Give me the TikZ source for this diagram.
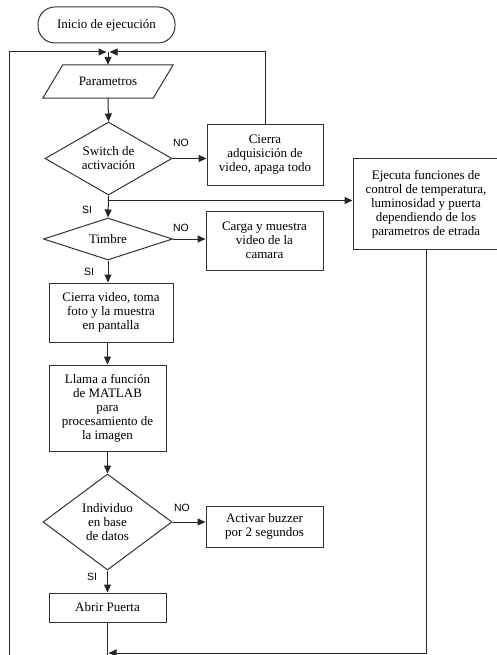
\documentclass[tikz,border=0pt]{standalone}
\usepackage{fontspec}
\setmainfont{Liberation Serif}
\newfontfamily\lblfont{Liberation Sans}
\usetikzlibrary{shapes.geometric,arrows.meta,calc}
\begin{document}
\begin{tikzpicture}[x=1pt,y=-1pt,
  every node/.style={font=\fontsize{13}{14}\selectfont, align=center, inner sep=0pt},
  box/.style={draw=black!80, line width=1pt, rectangle},
  dia/.style={draw=black!80, line width=1pt, diamond},
  term/.style={draw=black!80, line width=1pt, rounded corners=17pt, rectangle},
  paraline/.style={draw=black!80, line width=1pt},
  lbl/.style={font=\lblfont\fontsize{10.5}{12}\selectfont},
  con/.style={line width=1pt, draw=black!85},
  arr/.style={con, -{Triangle[length=8pt,width=7pt]}},
]
\useasboundingbox (0,0) rectangle (497,655);
\clip (0,0) rectangle (497,655);

\node[term, minimum width=137pt, minimum height=36pt] (start) at (106.5,25) {Inicio de ejecución};
\coordinate (j) at (108,52);
\node[minimum width=130pt, minimum height=33pt] (par) at (108,81.5) {Parametros};
\draw[paraline] ($(par.north west)+(20,0)$) -- (par.north east) -- ($(par.south east)+(-20,0)$) -- (par.south west) -- cycle;
\node[dia, minimum width=127pt, minimum height=73pt, shape aspect=1.7] (sw) at (108.5,158.5) {Switch de\\activación};
\node[box, minimum width=116pt, minimum height=60pt] (cad) at (265,155) {Cierra\\adquisición de\\video, apaga todo};
\node[box, minimum width=146pt, minimum height=90pt] (eje) at (426,204) {Ejecuta funciones de\\control de temperatura,\\luminosidad y puerta\\dependiendo de los\\parametros de etrada};
\node[dia, minimum width=129pt, minimum height=42pt, shape aspect=3] (tim) at (108,239) {Timbre};
\node[box, minimum width=117pt, minimum height=59pt] (car) at (264.5,240.5) {Carga y muestra\\video de la\\camara};
\node[box, minimum width=124pt, minimum height=59pt] (cvi) at (111,312.5) {Cierra video, toma\\foto y la muestra\\en pantalla};
\node[box, minimum width=117pt, minimum height=86pt] (lla) at (107.5,408) {Llama a función\\de MATLAB\\para\\procesamiento de\\la imagen};
\node[dia, minimum width=129pt, minimum height=96pt, shape aspect=1.34] (ind) at (107.5,522) {Individuo\\en base\\de datos};
\node[box, minimum width=117pt, minimum height=41pt] (act) at (264.5,526.5) {Activar buzzer\\por 2 segundos};
\node[box, minimum width=117pt, minimum height=29pt] (abr) at (107.5,607.5) {Abrir Puerta};

\coordinate (lb) at (9,660);
\coordinate (lt) at (9,52);
\coordinate (rt) at (265,52);
\path (sw.south) ++(0,5) coordinate (si1);
\coordinate (ab) at (107.5,660);
\coordinate (eb) at (426,653);
\coordinate (bj) at (107.5,653);

\draw[arr] (lb) -- (lt) -- ([xshift=-1.5pt]j);
\draw[arr] (cad.north) -- (rt) -- ([xshift=1.5pt]j);
\draw[arr] (j) -- (par.north);
\draw[arr] (par.south) -- (sw.north);
\draw[arr] (sw.east) -- (sw.east -| cad.west);
\draw[arr] (sw.south) -- (tim.north);
\draw[arr] (si1) -- (si1 -| eje.west);
\draw[arr] (tim.east) -- (tim.east -| car.west);
\draw[arr] (tim.south) -- (tim.south |- cvi.north);
\draw[arr] (lla.north |- cvi.south) -- (lla.north);
\draw[arr] (lla.south) -- (ind.north);
\draw[arr] (ind.east) -- (ind.east -| act.west);
\draw[arr] (ind.south) -- (abr.north);
\draw[con] (abr.south) -- (ab);
\draw[arr] (eje.south) -- (eb) -- ([xshift=1pt]bj);

\node[lbl] (no1) at (181,143) {NO};
\node[lbl] (si1l) at (87,210) {SI};
\node[lbl] (no2) at (181,228) {NO};
\node[lbl] (si2l) at (89,272) {SI};
\node[lbl] (no3) at (182,508) {NO};
\node[lbl] (si3l) at (92,577) {SI};
\end{tikzpicture}
\end{document}
